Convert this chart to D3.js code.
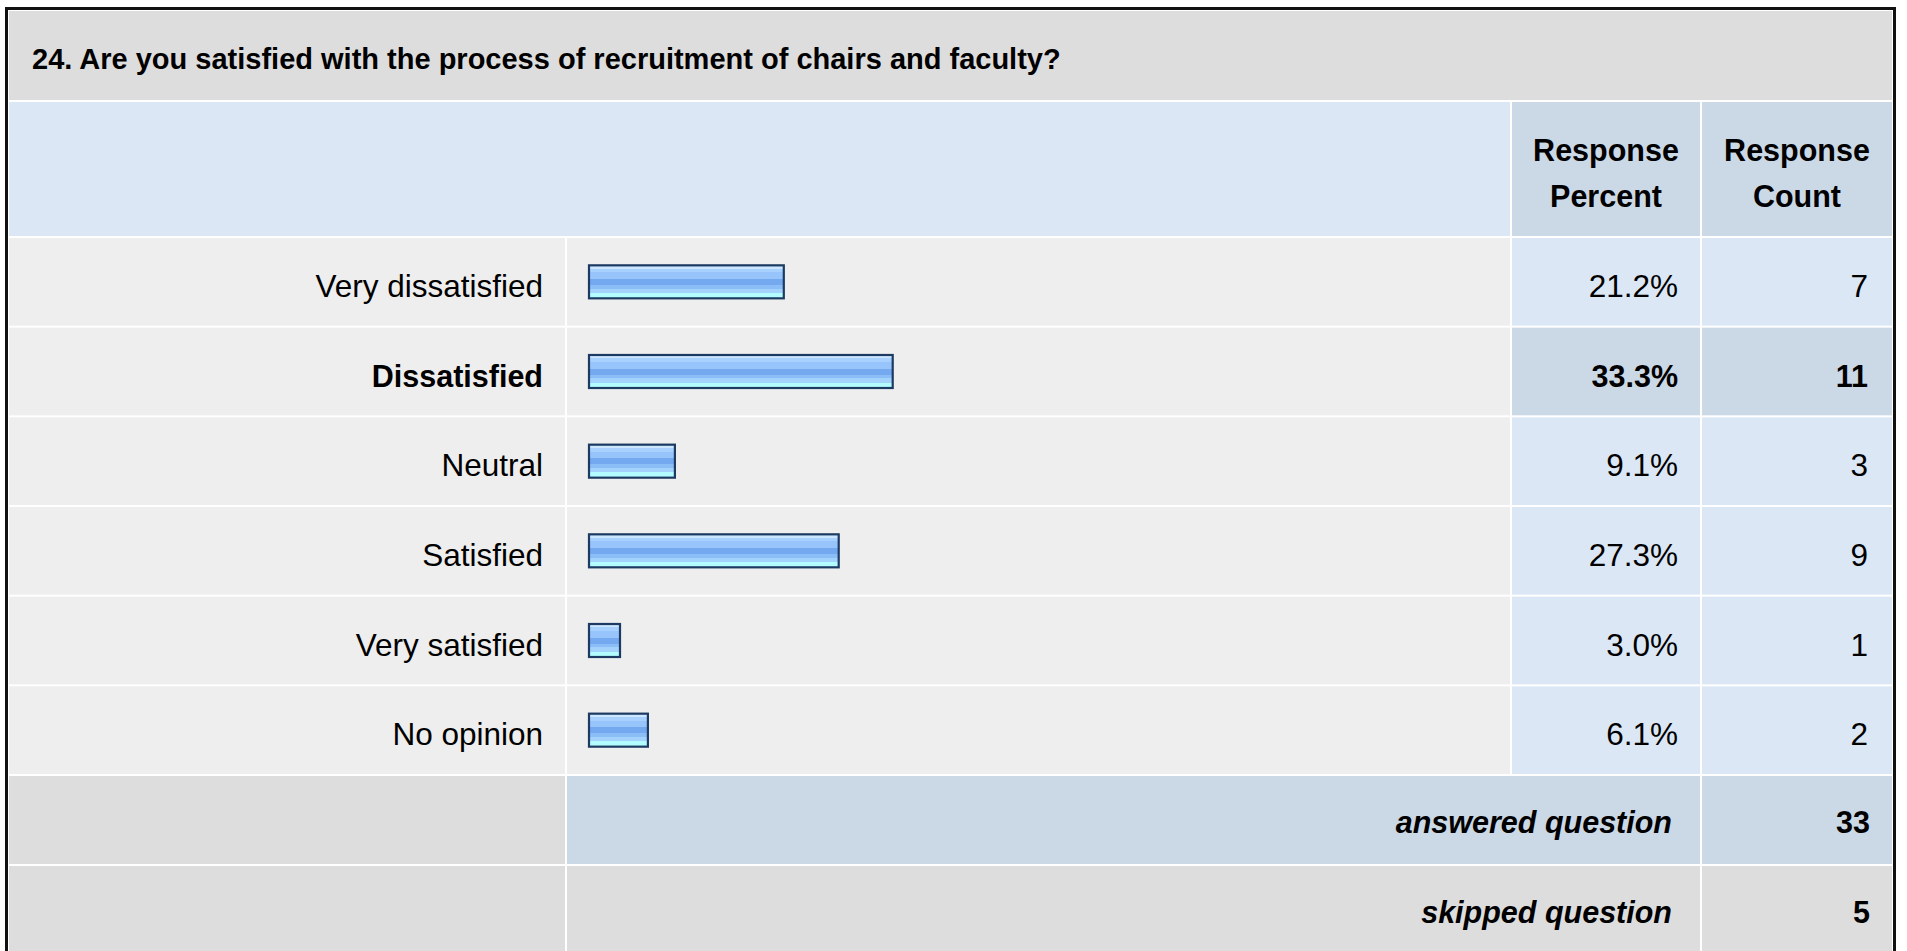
<!DOCTYPE html>
<html>
<head>
<meta charset="utf-8">
<script src="https://cdn.jsdelivr.net/npm/d3@7"></script>
<style>
  body { margin: 0; background: #fff; }
  svg text { font-family: "Liberation Sans", Arial, sans-serif; fill: #000; }
</style>
</head>
<body>
<svg id="chart"></svg>
<script>
// survey data
var title = "24. Are you satisfied with the process of recruitment of chairs and faculty?";
var categories = ["Very dissatisfied", "Dissatisfied", "Neutral", "Satisfied", "Very satisfied", "No opinion"];
var percents = [21.2, 33.3, 9.1, 27.3, 3.0, 6.1];
var counts = [7, 11, 3, 9, 1, 2];
var headerLabels = [["Response", "Percent"], ["Response", "Count"]];
var footerLabels = ["answered question", "skipped question"];
var footerValues = [33, 5];

var width = 1907, height = 951;
var svg = d3.select("#chart").attr("width", width).attr("height", height);

// column edges
var colLabel = [9, 565], colBar = [567, 1510], colPct = [1512, 1700], colCnt = [1702, 1892];
var gridTop = 238, gridBottom = 776;
var bodyFont = "31.5px", boldFont = "30.5px";

var y = d3.scaleBand().domain(categories).range([gridTop, gridBottom]);
var x = d3.scaleLinear().domain([0, 100]).range([0, 900]);
var rowH = y.step() - 2;
var maxCount = d3.max(counts);

// gradient for bars (banded look)
var grad = svg.append("defs").append("linearGradient")
    .attr("id", "barGrad").attr("x1", 0).attr("y1", 0).attr("x2", 0).attr("y2", 1);
var bands = [[0, 0.1, "#cce6ff"], [0.1, 0.21, "#a9d1ff"], [0.21, 0.41, "#97c5fb"],
             [0.41, 0.6, "#74a9f0"], [0.6, 0.71, "#8bbdf6"], [0.71, 0.84, "#a3d3fd"], [0.84, 1, "#b2fcff"]];
bands.forEach(b => {
    grad.append("stop").attr("offset", b[0]).attr("stop-color", b[2]);
    grad.append("stop").attr("offset", b[1]).attr("stop-color", b[2]);
});

// outer frame
svg.append("rect").attr("x", 6.5).attr("y", 8.5).attr("width", 1888).attr("height", 960)
    .attr("fill", "#fff").attr("stroke", "#111").attr("stroke-width", 3);

function cell(x0, x1, y0, h, fill) {
    svg.append("rect").attr("x", x0).attr("y", y0).attr("width", x1 - x0).attr("height", h).attr("fill", fill);
}

// title row
cell(colLabel[0], colCnt[1], 11, 89, "#dddddd");
svg.append("text").attr("x", 32).attr("y", 69)
    .style("font-size", "29px").style("font-weight", "bold").text(title);

// header row
cell(colLabel[0], colBar[1], 102, 134, "#dce7f5");
cell(colPct[0], colPct[1], 102, 134, "#cbd8e6");
cell(colCnt[0], colCnt[1], 102, 134, "#cbd8e6");
[colPct, colCnt].forEach((c, i) => {
    headerLabels[i].forEach((t, j) => {
        svg.append("text").attr("x", (c[0] + c[1]) / 2).attr("y", 161 + j * 46)
            .attr("text-anchor", "middle")
            .style("font-size", "30.5px").style("font-weight", "bold").text(t);
    });
});

// answer rows
var rows = svg.selectAll(".row").data(categories).enter().append("g").attr("class", "row");

rows.each(function (d, i) {
    var g = d3.select(this);
    var top = y(d), mid = top + rowH / 2;
    var isMax = counts[i] === maxCount;
    var valFill = isMax ? "#cbd8e6" : "#dce7f5";
    var weight = isMax ? "bold" : "normal";
    var size = isMax ? boldFont : bodyFont;
    g.append("rect").attr("x", colLabel[0]).attr("y", top).attr("width", colLabel[1] - colLabel[0]).attr("height", rowH).attr("fill", "#eeeeee");
    g.append("rect").attr("x", colBar[0]).attr("y", top).attr("width", colBar[1] - colBar[0]).attr("height", rowH).attr("fill", "#eeeeee");
    g.append("rect").attr("x", colPct[0]).attr("y", top).attr("width", colPct[1] - colPct[0]).attr("height", rowH).attr("fill", valFill);
    g.append("rect").attr("x", colCnt[0]).attr("y", top).attr("width", colCnt[1] - colCnt[0]).attr("height", rowH).attr("fill", valFill);

    g.append("text").attr("x", 543).attr("y", mid + 15).attr("text-anchor", "end")
        .style("font-size", size).style("font-weight", weight).text(d);

    g.append("rect").attr("class", "bar")
        .attr("x", 589).attr("y", mid - 16.5)
        .attr("width", x(percents[i]) + 4).attr("height", 33)
        .attr("fill", "url(#barGrad)").attr("stroke", "#1c3a62").attr("stroke-width", 2.2);

    g.append("text").attr("x", 1678).attr("y", mid + 15).attr("text-anchor", "end")
        .style("font-size", size).style("font-weight", weight)
        .text(percents[i].toFixed(1) + "%");
    g.append("text").attr("x", 1868).attr("y", mid + 15).attr("text-anchor", "end")
        .style("font-size", size).style("font-weight", weight)
        .text(counts[i]);
});

// footer rows
footerLabels.forEach((t, i) => {
    var top = gridBottom + i * 90, h = 88, mid = top + h / 2;
    var fill = i === 0 ? "#cbd8e6" : "#dddddd";
    cell(colLabel[0], colLabel[1], top, h, "#dddddd");
    cell(colBar[0], colPct[1], top, h, fill);
    cell(colCnt[0], colCnt[1], top, h, fill);
    svg.append("text").attr("x", 1672).attr("y", mid + 12.5).attr("text-anchor", "end")
        .style("font-size", boldFont).style("font-weight", "bold").style("font-style", "italic").text(t);
    svg.append("text").attr("x", 1870).attr("y", mid + 12.5).attr("text-anchor", "end")
        .style("font-size", boldFont).style("font-weight", "bold").text(footerValues[i]);
});
</script>
</body>
</html>
